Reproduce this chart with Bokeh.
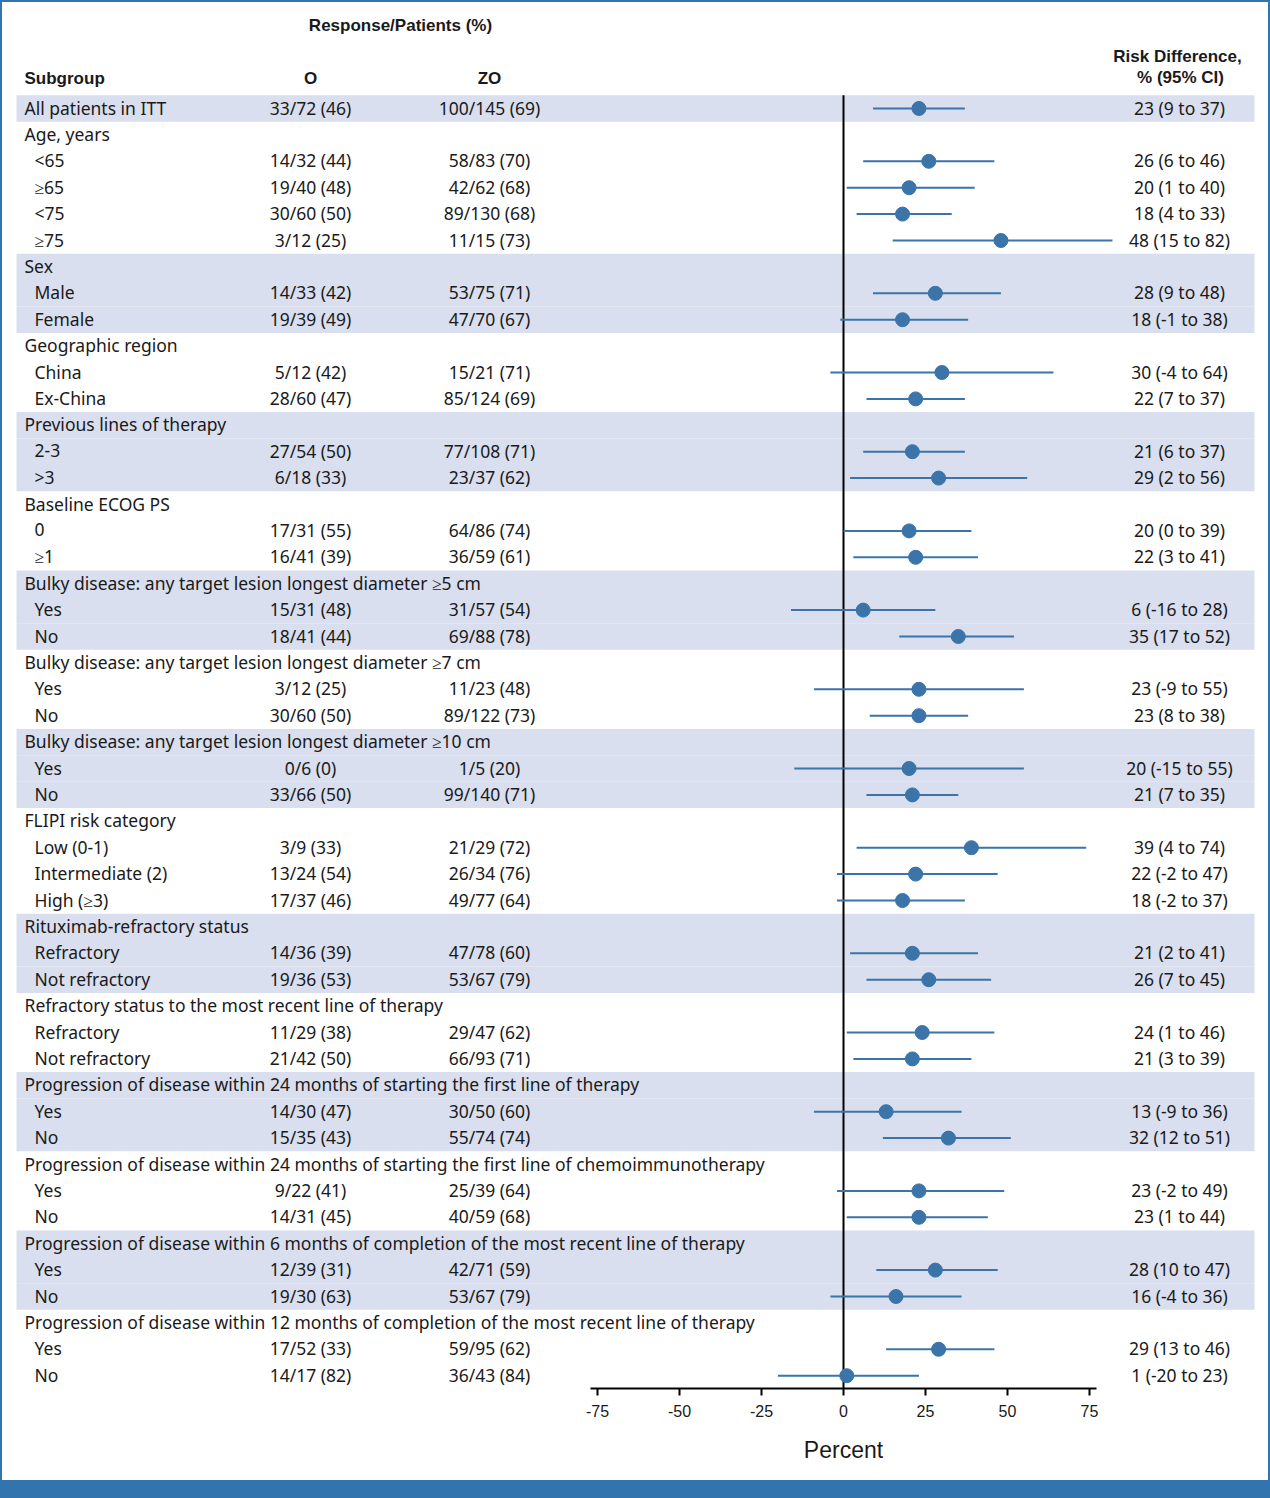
from bokeh.plotting import figure
from bokeh.models import ColumnDataSource, Range1d, FixedTicker, Spacer, Title
from bokeh.layouts import column, row
from bokeh.core.properties import value
from bokeh.embed import file_html
from bokeh.resources import INLINE

# ---------------- data ----------------
labels = [
    "All patients in ITT",
    "Age, years", "<65", "\u226565", "<75", "\u226575",
    "Sex", "Male", "Female",
    "Geographic region", "China", "Ex-China",
    "Previous lines of therapy", "2-3", ">3",
    "Baseline ECOG PS", "0", "\u22651",
    "Bulky disease: any target lesion longest diameter \u22655 cm", "Yes", "No",
    "Bulky disease: any target lesion longest diameter \u22657 cm", "Yes", "No",
    "Bulky disease: any target lesion longest diameter \u226510 cm", "Yes", "No",
    "FLIPI risk category", "Low (0-1)", "Intermediate (2)", "High (\u22653)",
    "Rituximab-refractory status", "Refractory", "Not refractory",
    "Refractory status to the most recent line of therapy", "Refractory", "Not refractory",
    "Progression of disease within 24 months of starting the first line of therapy", "Yes", "No",
    "Progression of disease within 24 months of starting the first line of chemoimmunotherapy", "Yes", "No",
    "Progression of disease within 6 months of completion of the most recent line of therapy", "Yes", "No",
    "Progression of disease within 12 months of completion of the most recent line of therapy", "Yes", "No",
]
# True = group title (not indented)
is_group = [
    True,
    True, False, False, False, False,
    True, False, False,
    True, False, False,
    True, False, False,
    True, False, False,
    True, False, False,
    True, False, False,
    True, False, False,
    True, False, False, False,
    True, False, False,
    True, False, False,
    True, False, False,
    True, False, False,
    True, False, False,
    True, False, False,
]
o_resp = [
    "33/72 (46)",
    "", "14/32 (44)", "19/40 (48)", "30/60 (50)", "3/12 (25)",
    "", "14/33 (42)", "19/39 (49)",
    "", "5/12 (42)", "28/60 (47)",
    "", "27/54 (50)", "6/18 (33)",
    "", "17/31 (55)", "16/41 (39)",
    "", "15/31 (48)", "18/41 (44)",
    "", "3/12 (25)", "30/60 (50)",
    "", "0/6 (0)", "33/66 (50)",
    "", "3/9 (33)", "13/24 (54)", "17/37 (46)",
    "", "14/36 (39)", "19/36 (53)",
    "", "11/29 (38)", "21/42 (50)",
    "", "14/30 (47)", "15/35 (43)",
    "", "9/22 (41)", "14/31 (45)",
    "", "12/39 (31)", "19/30 (63)",
    "", "17/52 (33)", "14/17 (82)",
]
zo_resp = [
    "100/145 (69)",
    "", "58/83 (70)", "42/62 (68)", "89/130 (68)", "11/15 (73)",
    "", "53/75 (71)", "47/70 (67)",
    "", "15/21 (71)", "85/124 (69)",
    "", "77/108 (71)", "23/37 (62)",
    "", "64/86 (74)", "36/59 (61)",
    "", "31/57 (54)", "69/88 (78)",
    "", "11/23 (48)", "89/122 (73)",
    "", "1/5 (20)", "99/140 (71)",
    "", "21/29 (72)", "26/34 (76)", "49/77 (64)",
    "", "47/78 (60)", "53/67 (79)",
    "", "29/47 (62)", "66/93 (71)",
    "", "30/50 (60)", "55/74 (74)",
    "", "25/39 (64)", "40/59 (68)",
    "", "42/71 (59)", "53/67 (79)",
    "", "59/95 (62)", "36/43 (84)",
]
N = None
rd_est = [23, N, 26, 20, 18, 48, N, 28, 18, N, 30, 22, N, 21, 29, N, 20, 22,
          N, 6, 35, N, 23, 23, N, 20, 21, N, 39, 22, 18, N, 21, 26, N, 24, 21,
          N, 13, 32, N, 23, 23, N, 28, 16, N, 29, 1]
rd_lo = [9, N, 6, 1, 4, 15, N, 9, -1, N, -4, 7, N, 6, 2, N, 0, 3,
         N, -16, 17, N, -9, 8, N, -15, 7, N, 4, -2, -2, N, 2, 7, N, 1, 3,
         N, -9, 12, N, -2, 1, N, 10, -4, N, 13, -20]
rd_hi = [37, N, 46, 40, 33, 82, N, 48, 38, N, 64, 37, N, 37, 56, N, 39, 41,
         N, 28, 52, N, 55, 38, N, 55, 35, N, 74, 47, 37, N, 41, 45, N, 46, 39,
         N, 36, 51, N, 49, 44, N, 47, 36, N, 46, 23]
x_ticks = [-75, -50, -25, 0, 25, 50, 75]

# ---------------- layout constants (page pixels) ----------------
PX_PER_UNIT = 3.28
ZERO_X = 843.0
ROW0_Y = 108.0
ROW_H = 26.4
BORDER = 2
FIG_W, FIG_H = 1266, 1478
AXIS_Y = 1388
TXT_DY = -1.0 / ROW_H  # small upward nudge for body text

def xd(px):
    return (px - ZERO_X) / PX_PER_UNIT

def yd(py):
    return (py - ROW0_Y) / ROW_H

FONT = value("Noto Sans")
FS = value("17.5px")
HFONT = value("Liberation Sans")
TXT = "#1a1a1a"
DOT = "#3a74a8"
BAND = "#d9dfee"
EDGE = "#3174ae"

p = figure(width=FIG_W, height=FIG_H,
           x_range=Range1d(xd(BORDER), xd(BORDER + FIG_W)),
           y_range=Range1d(yd(AXIS_Y), yd(BORDER)),
           min_border_left=0, min_border_right=0, min_border_top=0,
           min_border_bottom=FIG_H - (AXIS_Y - BORDER),
           toolbar_location=None, output_backend="svg",
           y_axis_location=None, x_axis_location="below",
           outline_line_color=None, background_fill_color="white",
           border_fill_color="white")
p.xgrid.visible = False
p.ygrid.visible = False

# group shading
ys = list(range(len(labels)))
ty = [y + TXT_DY for y in ys]
grp = []
g = -1
for flag in is_group:
    if flag:
        g += 1
    grp.append(g)
shaded = [y for y in ys if grp[y] % 2 == 0]
p.quad(left=xd(16), right=xd(1254),
       top=[y - 0.5 for y in shaded], bottom=[y + 0.5 for y in shaded],
       fill_color=BAND, line_color=None)

# zero line
p.segment(x0=[0], x1=[0], y0=[-0.5], y1=[yd(AXIS_Y)], line_color="black", line_width=2)

# texts
lab_x = [xd(24) if f else xd(34) for f in is_group]
p.text(x=lab_x, y=ty, text=labels, text_font=FONT, text_font_size=FS,
       text_align="left", text_baseline="middle", text_color=TXT)
p.text(x=[xd(310)] * len(ys), y=ty, text=o_resp, text_font=FONT, text_font_size=FS,
       text_align="center", text_baseline="middle", text_color=TXT)
p.text(x=[xd(489)] * len(ys), y=ty, text=zo_resp, text_font=FONT, text_font_size=FS,
       text_align="center", text_baseline="middle", text_color=TXT)

di = [i for i in ys if rd_est[i] is not None]
src = ColumnDataSource(dict(
    y=di,
    ty=[i + TXT_DY for i in di],
    est=[rd_est[i] for i in di],
    lo=[rd_lo[i] for i in di],
    hi=[rd_hi[i] for i in di],
    rd=[f"{rd_est[i]} ({rd_lo[i]} to {rd_hi[i]})" for i in di],
))
p.text(x=xd(1179), y="ty", text="rd", source=src, text_font=FONT, text_font_size=FS,
       text_align="center", text_baseline="middle", text_color=TXT)
p.segment(x0="lo", x1="hi", y0="y", y1="y", source=src, line_color=DOT, line_width=2)
p.scatter(x="est", y="y", source=src, size=14, fill_color=DOT, line_color=DOT)

# headers
BFS = value("17px")
p.text(x=[xd(400)], y=[yd(25)], text=["Response/Patients (%)"], text_font=HFONT, text_font_size=BFS,
       text_font_style="bold", text_align="center", text_baseline="middle", text_color=TXT)
p.text(x=[xd(24)], y=[yd(78)], text=["Subgroup"], text_font=HFONT, text_font_size=BFS,
       text_font_style="bold", text_align="left", text_baseline="middle", text_color=TXT)
p.text(x=[xd(310), xd(489)], y=[yd(78), yd(78)], text=["O", "ZO"], text_font=HFONT, text_font_size=BFS,
       text_font_style="bold", text_align="center", text_baseline="middle", text_color=TXT)
p.text(x=[xd(1177), xd(1180)], y=[yd(56), yd(77)], text=["Risk Difference,", "% (95% CI)"],
       text_font=HFONT, text_font_size=BFS, text_font_style="bold", text_align="center",
       text_baseline="middle", text_color=TXT)

# x axis
ax = p.xaxis[0]
ax.ticker = FixedTicker(ticks=x_ticks)
ax.major_label_overrides = {t: str(t) for t in x_ticks}
ax.bounds = (-77, 77)
ax.axis_line_width = 2
ax.axis_line_color = "black"
ax.major_tick_line_width = 2
ax.major_tick_line_color = "black"
ax.major_tick_out = 7
ax.major_tick_in = 0
ax.minor_tick_line_color = None
ax.major_label_text_font = "Liberation Sans"
ax.major_label_text_font_size = "16px"
ax.major_label_text_color = TXT
ax.major_label_standoff = 9

# axis title "Percent" centred under the zero line
title_w = 3.446 * 23
p.add_layout(Title(text="Percent", align="left", offset=(ZERO_X - BORDER) - title_w / 2,
                   text_font="Liberation Sans", text_font_size="23px", text_font_style="normal",
                   text_color=TXT, standoff=30), "below")

top = Spacer(width=FIG_W + 2 * BORDER, height=BORDER, styles={"background-color": EDGE})
left = Spacer(width=BORDER, height=FIG_H, styles={"background-color": EDGE})
right = Spacer(width=BORDER, height=FIG_H, styles={"background-color": EDGE})
band = Spacer(width=FIG_W + 2 * BORDER, height=1498 - FIG_H - BORDER, styles={"background-color": EDGE})
layout = column(top, row(left, p, right, spacing=0), band, spacing=0)

open("out.html", "w").write(file_html(layout, INLINE))
